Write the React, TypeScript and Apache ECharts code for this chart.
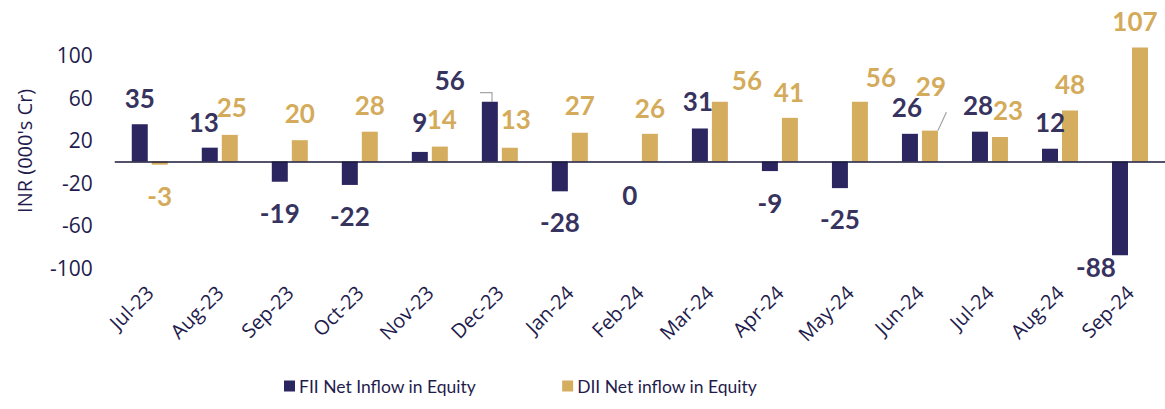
import React, { useEffect, useRef } from "react";
import * as echarts from "echarts";

const months = ["Jul-23", "Aug-23", "Sep-23", "Oct-23", "Nov-23", "Dec-23", "Jan-24", "Feb-24", "Mar-24", "Apr-24", "May-24", "Jun-24", "Jul-24", "Aug-24", "Sep-24"];
const fiiValues = [35, 13, -19, -22, 9, 56, -28, 0, 31, -9, -25, 26, 28, 12, -88];
const diiValues = [-3, 25, 20, 28, 14, 13, 27, 26, 56, 41, 56, 29, 23, 48, 107];
const fiiLabelOffsets = [[0, -45], [-6, -33], [0, 41], [0, 43], [0, -35], [-40, -52], [0, 46], [0, 33], [-2, -44], [0, 37], [0, 44], [-3, -41], [-2, -42], [0, -33], [-24, 59]];
const diiLabelOffsets = [[0, 33], [2, -41], [0, -38], [0, -42], [2, -35], [6, -36], [0, -42], [0, -40], [27, -52], [-1, -48], [21, -55], [1, -60], [8, -39], [0, -52], [-5, -84]];
const fiiLeaderLine = [0, 0, 0, 0, 0, 12, 0, 0, 0, 0, 0, 0, 0, 0, 0];
const diiLeaderLine = [0, 0, 0, 0, 0, 0, 0, 0, 0, 0, 0, 1, 0, 0, 0];
const yTicks = { min: -100, max: 120, interval: 40 };
const seriesNames = ["FII Net Inflow in Equity", "DII Net inflow in Equity"];

const NAVY = "#2b2660";
const GOLD = "#d5ad5e";
const TEXT = "#1f1c4d";
const FONT = "Lato, 'Open Sans', sans-serif";
const AXIS_FONT = "'Open Sans', Lato, sans-serif";

function buildData(values: number[], offsets: number[][], leader: number[], color: string) {
  return values.map((v, i) => ({
    value: v,
    label: {
      show: true,
      position: "inside",
      offset: offsets[i],
      color,
      fontSize: 26,
      fontWeight: "bold",
      fontFamily: FONT,
    },
    labelLine: leader[i]
      ? { show: true, length2: leader[i], smooth: false, lineStyle: { color: "#a6a6a6", width: 1.2 } }
      : { show: false },
  }));
}

export default function App() {
  const ref = useRef<HTMLDivElement>(null);
  useEffect(() => {
    if (!ref.current) return;
    const chart = echarts.init(ref.current, null, { renderer: "svg" });
    chart.setOption({
      animation: false,
      backgroundColor: "#ffffff",
      textStyle: { fontFamily: FONT },
      grid: { left: 114.75, right: -7.25, top: 33.7, bottom: 141, containLabel: false },
      legend: {
        bottom: 9,
        left: 279,
        itemWidth: 11,
        itemHeight: 11,
        itemGap: 86,
        icon: "rect",
        textStyle: { color: TEXT, fontSize: 17.5, fontFamily: FONT, padding: [0, 0, 0, -1] },
        data: seriesNames,
      },
      xAxis: {
        type: "category",
        data: months,
        axisLine: { show: false, onZero: false },
        axisTick: { show: false },
        axisLabel: { rotate: 45, color: TEXT, fontSize: 20, margin: 21, interval: 0, fontFamily: AXIS_FONT },
        splitLine: { show: false },
      },
      yAxis: {
        type: "value",
        min: yTicks.min,
        max: yTicks.max,
        interval: yTicks.interval,
        name: "INR (000's Cr)",
        nameLocation: "middle",
        nameGap: 80,
        nameTextStyle: { color: TEXT, fontSize: 20, fontFamily: AXIS_FONT },
        axisLine: { show: false },
        axisTick: { show: false },
        splitLine: { show: false },
        axisLabel: { color: TEXT, fontSize: 21, margin: 22, showMaxLabel: false, fontFamily: AXIS_FONT },
      },
      series: [
        {
          name: seriesNames[0],
          type: "bar",
          barWidth: 16,
          barGap: "25%",
          itemStyle: { color: NAVY },
          data: buildData(fiiValues, fiiLabelOffsets, fiiLeaderLine, "#37335f"),
          markLine: {
            silent: true,
            symbol: "none",
            label: { show: false },
            lineStyle: { color: "#1a1838", width: 1.5, type: "solid" },
            data: [{ yAxis: 0 }],
          },
        },
        {
          name: seriesNames[1],
          type: "bar",
          barWidth: 16,
          barGap: "25%",
          itemStyle: { color: GOLD },
          data: buildData(diiValues, diiLabelOffsets, diiLeaderLine, "#d4ab5a"),
        },
      ],
    });
    return () => chart.dispose();
  }, []);
  return <div ref={ref} style={{ position: "fixed", left: 0, top: 0, width: 1165, height: 409 }} />;
}
